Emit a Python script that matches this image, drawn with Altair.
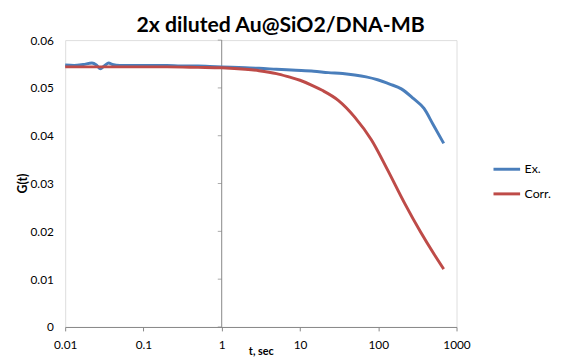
import altair as alt
import pandas as pd

# Ex. series (blue)
ex_t = [0.01, 0.013, 0.017, 0.022, 0.025, 0.028, 0.032, 0.036, 0.04, 0.05, 0.07,
        0.1, 0.2, 0.3, 0.5, 0.7, 1, 2, 3, 5, 8.85, 15, 23, 35, 50, 70, 98, 140,
        197, 280, 384, 500, 686]
ex_g = [0.0548, 0.0547, 0.0549, 0.0552, 0.0548, 0.0540, 0.0547, 0.0552, 0.0549,
        0.0547, 0.0547, 0.0547, 0.0547, 0.0546, 0.0546, 0.0545, 0.0544, 0.0542,
        0.0541, 0.0539, 0.0537, 0.0535, 0.0532, 0.0530, 0.0527, 0.0523, 0.0517,
        0.0508, 0.0498, 0.0478, 0.0457, 0.0424, 0.0384]

# Corr. series (red)
corr_t = [0.01, 0.02, 0.05, 0.1, 0.2, 0.5, 1, 2, 3, 5, 7.2, 10, 14, 19.2, 30.8,
          50, 82, 131, 215, 349, 513, 686]
corr_g = [0.0544, 0.0544, 0.0544, 0.0544, 0.0544, 0.0543, 0.0542, 0.0539, 0.0536,
          0.0530, 0.0523, 0.0516, 0.0506, 0.0495, 0.0474, 0.0439, 0.0391, 0.0329,
          0.0260, 0.0198, 0.0153, 0.0121]

series_names = ["Ex.", "Corr."]
series_colors = ["#4A7EBB", "#BE4B48"]

x_ticks = [0.01, 0.1, 1, 10, 100, 1000]
y_ticks = [0, 0.01, 0.02, 0.03, 0.04, 0.05, 0.06]

title_text = "2x diluted Au@SiO2/DNA-MB"

df = pd.concat([
    pd.DataFrame({"t": ex_t, "G": ex_g, "series": "Ex."}),
    pd.DataFrame({"t": corr_t, "G": corr_g, "series": "Corr."}),
])

FONT = "Lato"
AXIS_GRAY = "#868686"

x_scale = alt.Scale(type="log", domain=[0.01, 1000], nice=False)
y_scale = alt.Scale(domain=[0, 0.06], nice=False)

lines = alt.Chart(df).mark_line(strokeWidth=3, interpolate="monotone").encode(
    x=alt.X("t:Q", scale=x_scale,
            axis=alt.Axis(values=x_ticks, title="t, sec",
                          labelExpr="format(datum.value, '~g')",
                          grid=False, domainColor=AXIS_GRAY, tickColor=AXIS_GRAY,
                          tickSize=4, labelPadding=9, labelFont=FONT, labelFontSize=12,
                          labelColor="#000000", titleFont=FONT, titleFontSize=11,
                          titleFontWeight="bold", titleColor="#000000",
                          titleY=25, titleBaseline="middle", labelFlush=False)),
    y=alt.Y("G:Q", scale=y_scale,
            axis=alt.Axis(values=y_ticks, title="G(t)",
                          labelExpr="datum.value == 0 ? '0' : format(datum.value, '.2f')",
                          grid=False, domain=False, ticks=False, tickSize=0,
                          labelPadding=12, labelFont=FONT, labelFontSize=12,
                          labelColor="#000000", titleFont=FONT, titleFontSize=12.5,
                          titleFontWeight="bold", titleColor="#000000",
                          titleX=-43, titleY=145, titleAngle=270,
                          titleAlign="center", titleBaseline="middle")),
    color=alt.Color("series:N",
                    scale=alt.Scale(domain=series_names, range=series_colors),
                    sort=series_names,
                    legend=alt.Legend(title=None, orient="none", legendX=433, legendY=116,
                                      symbolType="stroke", symbolSize=729,
                                      symbolStrokeWidth=3, labelOffset=3,
                                      labelFont=FONT, labelFontSize=12.5,
                                      labelColor="#000000", rowPadding=3)),
)

axis_rule = alt.Chart(pd.DataFrame({"x": [1]})).mark_rule(
    color=AXIS_GRAY, strokeWidth=1
).encode(
    x=alt.X("x:Q", scale=x_scale),
    y=alt.datum(0),
    y2=alt.datum(0.06),
)

axis_ticks = alt.Chart(pd.DataFrame({"y": y_ticks, "x": [1] * len(y_ticks)})).mark_tick(
    orient="horizontal", size=4, thickness=1, color=AXIS_GRAY, xOffset=-2
).encode(
    x=alt.X("x:Q", scale=x_scale),
    y=alt.Y("y:Q", scale=y_scale),
)

chart = alt.layer(axis_rule, axis_ticks, lines).properties(
    width=397,
    height=291,
    autosize=alt.AutoSizeParams(type="none"),
    padding={"left": 58, "top": 30, "right": 107, "bottom": 35},
    title=alt.TitleParams(title_text, font=FONT, fontSize=21.5, fontWeight="bold",
                          color="#000000", anchor="middle", dx=20, dy=22, offset=3,
                          baseline="alphabetic"),
).configure_view(stroke=None).configure(background="white")

chart.save("out.html", embed_options={"renderer": "svg", "actions": False})
